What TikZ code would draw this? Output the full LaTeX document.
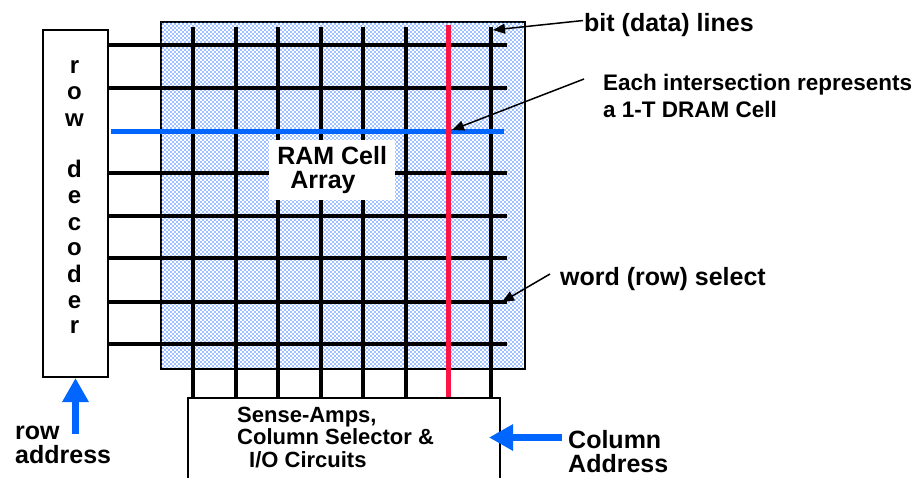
\documentclass[tikz,border=0pt]{standalone}
\usepackage{fontspec}
\setmainfont{Liberation Sans}
\usetikzlibrary{arrows.meta}

\definecolor{selblue}{RGB}{0,102,255}
\definecolor{selred}{RGB}{255,20,70}
\definecolor{dotblue}{RGB}{30,110,255}

\begin{document}
\begin{tikzpicture}[x=1pt,y=-1pt,
  lbl/.style={font=\fontsize{25}{24}\selectfont\bfseries, inner sep=0pt, align=left},
  small/.style={font=\fontsize{22}{22.5}\selectfont\bfseries, inner sep=0pt, align=left},
  deco/.style={font=\fontsize{24}{26}\selectfont\bfseries, inner sep=0pt},
  frame/.style={draw=black, line width=2pt, inner sep=0pt, anchor=north west},
  gridline/.style={line width=4pt, black},
  pointer/.style={line width=1.5pt, -{Triangle[length=12pt,width=10pt]}},
  bigarrow/.style={draw=selblue, line width=7pt, -{Triangle[length=24pt,width=25pt]}, fill=selblue}
]
\useasboundingbox (0,0) rectangle (917,477);
\fill[white] (0,0) rectangle (917,477);

% blocks
\node[frame, fill=white, minimum width=364pt, minimum height=347pt] (array) at (160,21) {};
\node[frame, minimum width=65pt, minimum height=347pt] (rowdec) at (42,29) {};
\node[frame, minimum width=312pt, minimum height=100pt] (sense) at (187,397) {};

% staggered dot screen inside the cell array
\begin{scope}
  \clip (161,22) rectangle (523,367);
  \foreach \r in {0,...,87} {
    \pgfmathsetmacro\yy{21+4*\r}
    \fill[dotblue] \foreach \c in {0,...,91} {
      (160.4+4*\c,\yy+0.4) rectangle ++(1.3,1.3)
      (162.4+4*\c,\yy+2.4) rectangle ++(1.3,1.3) };
  }
\end{scope}

% word lines
\foreach \yy in {45,88,173,216,258,302,344}
  \draw[gridline] (rowdec.east |- 0,\yy) -- (507,\yy);
% bit lines
\foreach \xx in {193,236,278,321,363,406,491}
  \draw[gridline] (\xx,27) -- (sense.north -| \xx,0);

% selected word line and bit line
\draw[selblue, line width=5pt] (111,131) -- (504,131);
\draw[selred, line width=5pt] (448,25) -- (sense.north -| 448,0);

% array label
\node[lbl, fill=white, minimum width=126pt, minimum height=60pt, anchor=north west]
  (ram) at (269,140) {RAM Cell\\\hspace*{13pt}Array};

% decoder lettering
\foreach \ch/\yy [count=\i] in {r/73,o/99,w/126,d/177,e/203,c/230,o/255,d/282,e/308,r/333}
  \node[deco, anchor=base] (dec\i) at (74.5,\yy) {\ch};

% sense amplifier label (base anchor sits on the last line)
\node[small, anchor=base west] (sensetxt) at (237,467)
  {Sense-Amps,\\Column Selector \&\\\hspace*{12pt}I/O Circuits};

% annotations
\node[lbl, anchor=base west] (bit) at (584,31) {bit (data) lines};
\node[small, anchor=base west, font=\fontsize{22.5}{27}\selectfont\bfseries] (cell) at (603,117)
  {Each intersection represents\\a 1-T DRAM Cell};
\node[lbl, anchor=base west] (word) at (560,285) {word (row) select};
\node[lbl, anchor=base west] (coladdr) at (568,472) {Column\\Address};
\node[lbl, anchor=base west] (rowaddr) at (15,463) {row\\address};

\coordinate (bittip) at (493,30);
\coordinate (cellfrom) at (584,79);
\coordinate (celltip) at (452,130);
\coordinate (wordfrom) at (550,274);
\coordinate (wordtip) at (502,302);
\coordinate (colfrom) at (562,437.5);
\coordinate (coltip) at (489,437.5);

\draw[pointer] ([xshift=-1pt,yshift=4pt]bit.west) -- (bittip);
\draw[pointer] (cellfrom) -- (celltip);
\draw[pointer] (wordfrom) -- (wordtip);

\draw[bigarrow] ([yshift=-56pt]rowdec.south) -- (rowdec.south);
\draw[bigarrow] (colfrom) -- (coltip);
\end{tikzpicture}
\end{document}
